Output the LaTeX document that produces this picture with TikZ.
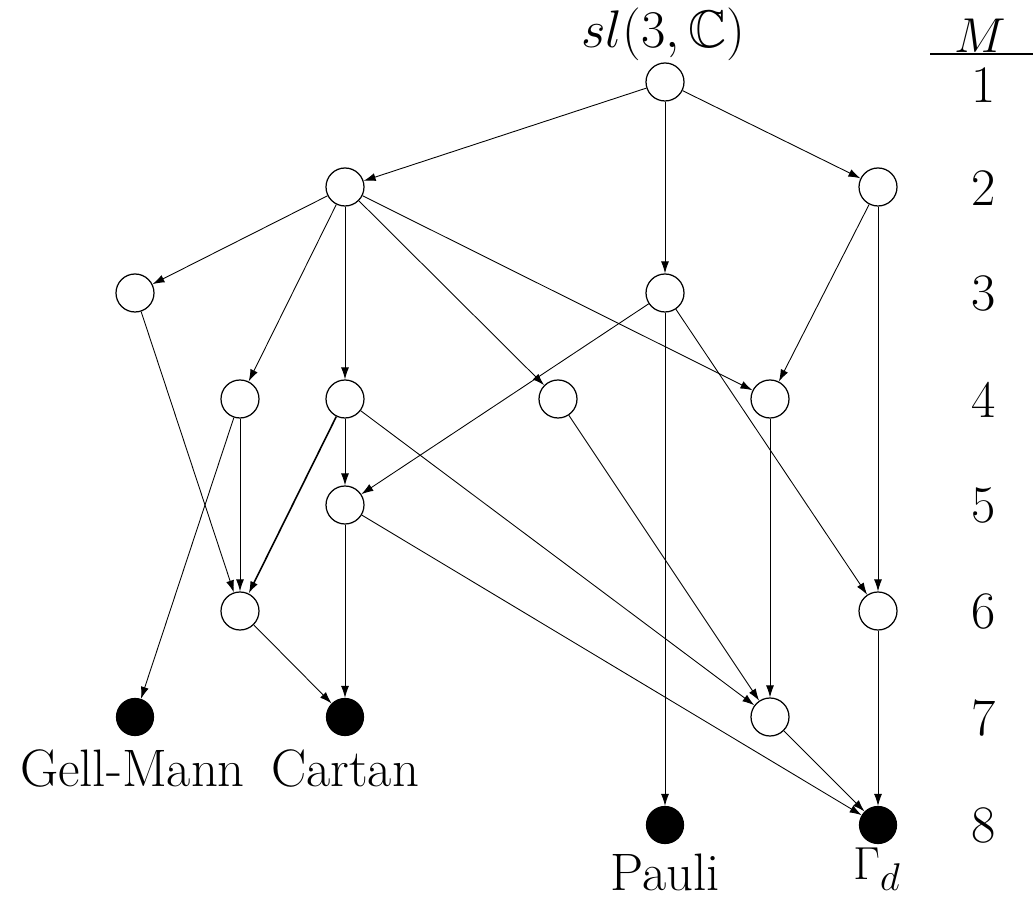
\documentclass[tikz,border=0pt]{standalone}
\usepackage{graphicx}
\usepackage{amssymb}
\usetikzlibrary{arrows.meta}
\begin{document}
\begin{tikzpicture}[
  every node/.style={font=\fontsize{30}{36}\selectfont},
  wnode/.style={circle,draw,line width=0.7pt,minimum size=0.76cm,inner sep=0pt,fill=white},
  bnode/.style={circle,draw,fill=black,line width=0.7pt,minimum size=0.74cm,inner sep=0pt},
  edge/.style={-{Latex[length=2.4mm,width=1.6mm]},line width=0.5pt},
  lbl/.style={inner sep=0pt}
]
\useasboundingbox (0,0) rectangle (20.68,17.96);
% nodes
\node[wnode] (top) at (13.30,16.32) {};
\node[wnode] (A) at (6.90,14.22) {};
\node[wnode] (B) at (17.56,14.22) {};
\node[wnode] (C) at (2.70,12.10) {};
\node[wnode] (D) at (13.30,12.10) {};
\node[wnode] (E) at (4.80,9.98) {};
\node[wnode] (F) at (6.90,9.98) {};
\node[wnode] (G) at (11.16,9.98) {};
\node[wnode] (H) at (15.40,9.98) {};
\node[wnode] (I) at (6.90,7.86) {};
\node[wnode] (J) at (4.80,5.74) {};
\node[wnode] (K) at (17.56,5.74) {};
\node[bnode] (GM) at (2.70,3.62) {};
\node[bnode] (Ca) at (6.90,3.62) {};
\node[wnode] (L) at (15.40,3.62) {};
\node[bnode] (Pa) at (13.30,1.46) {};
\node[bnode] (Ga) at (17.56,1.46) {};
% labels
\node[lbl,font=\fontsize{24.88}{30}\selectfont] (tlab) at (13.27,17.27) {\scalebox{1.21}{$sl(3,\mathbb{C})$}};
\node[lbl] (gmlab) at (2.65,2.60) {Gell-Mann};
\node[lbl] (calab) at (6.90,2.60) {Cartan};
\node[lbl] (palab) at (13.30,0.52) {Pauli};
\node[lbl] (galab) at (17.54,0.58) {\scalebox{1.06}{$\Gamma_d$}};
% M column
\node[lbl,font=\fontsize{24.88}{30}\selectfont] (M) at (19.60,17.24) {\scalebox{1.12}{$M$}};
\coordinate (ml) at (18.60,16.88);
\coordinate (mr) at (20.66,16.88);
\draw[line width=0.6pt] (ml) -- (mr);
\node[lbl] (n1) at (19.68,16.26) {1};
\node[lbl] (n2) at (19.68,14.20) {2};
\node[lbl] (n3) at (19.68,12.08) {3};
\node[lbl] (n4) at (19.68,9.96) {4};
\node[lbl] (n5) at (19.68,7.84) {5};
\node[lbl] (n6) at (19.68,5.72) {6};
\node[lbl] (n7) at (19.68,3.60) {7};
\node[lbl] (n8) at (19.68,1.46) {8};
% edges
\draw[edge] (top) -- (A);
\draw[edge] (top) -- (B);
\draw[edge] (top) -- (D);
\draw[edge] (A) -- (C);
\draw[edge] (A) -- (E);
\draw[edge] (A) -- (F);
\draw[edge] (A) -- (G);
\draw[edge] (A) -- (H);
\draw[edge] (B) -- (H);
\draw[edge] (B) -- (K);
\draw[edge] (C) -- (J);
\draw[edge] (D) -- (I);
\draw[edge] (D) -- (Pa);
\draw[edge] (D) -- (K);
\draw[edge] (E) -- (J);
\draw[edge] (E) -- (GM);
\draw[edge,line width=0.9pt] (F) -- (J);
\draw[edge] (F) -- (I);
\draw[edge] (F) -- (L);
\draw[edge] (G) -- (L);
\draw[edge] (H) -- (L);
\draw[edge] (I) -- (Ca);
\draw[edge] (I) -- (Ga);
\draw[edge] (J) -- (Ca);
\draw[edge] (K) -- (Ga);
\draw[edge] (L) -- (Ga);
\end{tikzpicture}
\end{document}
